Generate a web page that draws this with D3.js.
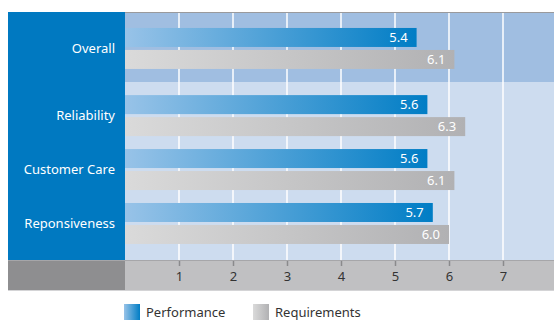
<!DOCTYPE html>
<html>
<head>
<meta charset="utf-8">
<script src="https://cdn.jsdelivr.net/npm/d3@7"></script>
<style>
  body { margin: 0; background: #fff; }
  svg text { font-family: "Noto Sans", "Open Sans", sans-serif; }
</style>
</head>
<body>
<div id="chart"></div>
<script>
// data
var categories = ['Overall', 'Reliability', 'Customer Care', 'Reponsiveness'];
var performance = [5.4, 5.6, 5.6, 5.7];
var requirements = [6.1, 6.3, 6.1, 6.0];
var seriesNames = ['Performance', 'Requirements'];
var xTicks = [1, 2, 3, 4, 5, 6, 7];

var width = 554, height = 320;
var panelLeft = 8, plotLeft = 125, plotTop = 12, splitY = 82, plotBottom = 260, axisBottom = 290;

var svg = d3.select('#chart').append('svg')
    .attr('width', width)
    .attr('height', height);

var defs = svg.append('defs');
var perfGrad = defs.append('linearGradient').attr('id', 'perfGrad');
perfGrad.append('stop').attr('offset', '0%').attr('stop-color', '#98c3e8');
perfGrad.append('stop').attr('offset', '100%').attr('stop-color', '#007dc5');
var reqGrad = defs.append('linearGradient').attr('id', 'reqGrad');
reqGrad.append('stop').attr('offset', '0%').attr('stop-color', '#dadada');
reqGrad.append('stop').attr('offset', '100%').attr('stop-color', '#b1b1b3');

var x = d3.scaleLinear()
    .domain([0, 1])
    .range([plotLeft, plotLeft + 54]);

// the "Overall" row sits in its own highlighted band
var yTop = d3.scaleBand()
    .domain(categories.slice(0, 1))
    .range([plotTop, splitY])
    .paddingInner(0)
    .paddingOuter(0.354)
    .align(0.55);
var yRest = d3.scaleBand()
    .domain(categories.slice(1))
    .range([splitY, plotBottom])
    .paddingInner(0.24)
    .paddingOuter(0.27)
    .align(0.45);
function y(c) { return c === categories[0] ? yTop(c) : yRest(c); }
var groupH = yRest.bandwidth();

var ySub = d3.scaleBand()
    .domain(seriesNames)
    .range([0, groupH])
    .paddingInner(0.136);

// backgrounds
svg.append('rect').attr('x', plotLeft).attr('y', plotTop)
    .attr('width', width - plotLeft).attr('height', splitY - plotTop)
    .attr('fill', '#a0bee1');
svg.append('rect').attr('x', plotLeft).attr('y', splitY)
    .attr('width', width - plotLeft).attr('height', plotBottom - splitY)
    .attr('fill', '#cddcef');
svg.append('line').attr('x1', plotLeft).attr('x2', width)
    .attr('y1', plotTop + 0.5).attr('y2', plotTop + 0.5)
    .attr('stroke', '#9a9a9c');

// left category panel
svg.append('rect').attr('x', panelLeft).attr('y', plotTop)
    .attr('width', plotLeft - panelLeft).attr('height', plotBottom - plotTop)
    .attr('fill', '#0079c1');

// axis band
svg.append('rect').attr('x', panelLeft).attr('y', plotBottom)
    .attr('width', plotLeft - panelLeft).attr('height', axisBottom - plotBottom)
    .attr('fill', '#8e8e90');
svg.append('rect').attr('x', plotLeft).attr('y', plotBottom)
    .attr('width', width - plotLeft).attr('height', axisBottom - plotBottom)
    .attr('fill', '#c0c0c2');
svg.append('line').attr('x1', panelLeft).attr('x2', width)
    .attr('y1', plotBottom + 0.5).attr('y2', plotBottom + 0.5)
    .attr('stroke', '#a6a6a9');
svg.append('line').attr('x1', panelLeft).attr('x2', width)
    .attr('y1', axisBottom + 0.5).attr('y2', axisBottom + 0.5)
    .attr('stroke', '#d4d4d6');

// grid lines
svg.selectAll('.grid')
    .data(xTicks)
    .enter()
    .append('line')
    .attr('class', 'grid')
    .attr('x1', d => x(d)).attr('x2', d => x(d))
    .attr('y1', plotTop + 1).attr('y2', plotBottom)
    .attr('stroke', '#ffffff')
    .attr('stroke-opacity', 0.75)
    .attr('stroke-width', 2);

// x axis
var xAxis = d3.axisBottom(x)
    .tickValues(xTicks)
    .tickSize(5)
    .tickPadding(6)
    .tickFormat(d3.format('d'));
var axisG = svg.append('g')
    .attr('class', 'x axis')
    .attr('transform', `translate(0,${plotBottom + 1})`)
    .call(xAxis);
axisG.select('.domain').remove();
axisG.selectAll('line').attr('stroke', '#8a8a8c').attr('stroke-width', 1.5);
axisG.selectAll('text')
    .attr('fill', '#333')
    .style('font-size', '13px');

// bars
var rows = categories.map((c, i) => ({cat: c, perf: performance[i], req: requirements[i]}));

var groups = svg.selectAll('.row')
    .data(rows)
    .enter()
    .append('g')
    .attr('class', 'row')
    .attr('transform', d => `translate(0,${y(d.cat)})`);

var series = [
    {key: 'perf', name: seriesNames[0], fill: 'url(#perfGrad)'},
    {key: 'req', name: seriesNames[1], fill: 'url(#reqGrad)'}
];

series.forEach(function(s) {
    groups.append('rect')
        .attr('x', x(0))
        .attr('y', ySub(s.name))
        .attr('width', d => x(d[s.key]) - x(0))
        .attr('height', ySub.bandwidth())
        .attr('fill', s.fill);
    groups.append('text')
        .attr('x', d => x(d[s.key]) - 9)
        .attr('y', ySub(s.name) + ySub.bandwidth() / 2)
        .attr('dy', '0.36em')
        .attr('text-anchor', 'end')
        .attr('fill', '#fff')
        .style('font-size', '13px')
        .text(d => d3.format('.1f')(d[s.key]));
});

// category labels
groups.append('text')
    .attr('x', plotLeft - 10)
    .attr('y', groupH / 2)
    .attr('dy', '0.36em')
    .attr('text-anchor', 'end')
    .attr('fill', '#fff')
    .style('font-size', '13px')
    .text(d => d.cat);

// legend
var legend = svg.selectAll('.legend')
    .data(series)
    .enter()
    .append('g')
    .attr('class', 'legend')
    .attr('transform', (d, i) => `translate(${124 + i * 129},304)`);
legend.append('rect')
    .attr('width', 16).attr('height', 16)
    .attr('fill', d => d.fill);
legend.append('text')
    .attr('x', 22).attr('y', 8)
    .attr('dy', '0.36em')
    .attr('fill', '#333')
    .style('font-size', '13px')
    .text(d => d.name);
</script>
</body>
</html>
